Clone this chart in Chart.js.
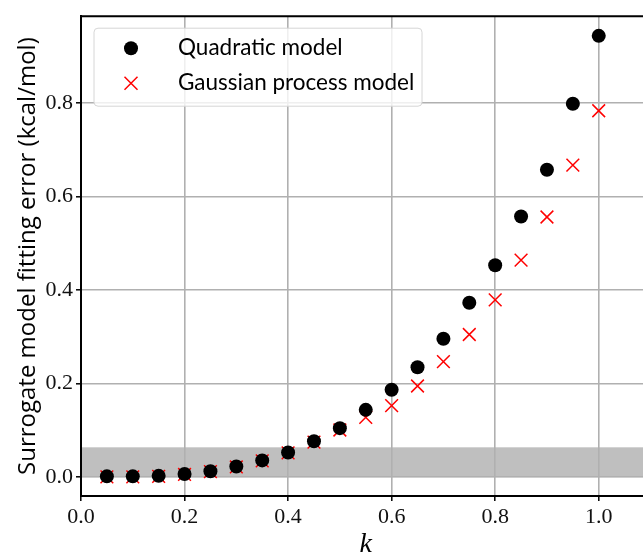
<!DOCTYPE html>
<html lang="en">
<head>
    <meta charset="UTF-8">
    <title>Surrogate model fitting error</title>
    <script src="https://cdn.jsdelivr.net/npm/chart.js"></script>
    <style>
        html, body {
            margin: 0;
            padding: 0;
            width: 643px;
            height: 552px;
            overflow: hidden;
            background: #ffffff;
        }

        #wrap {
            width: 661px;
            height: 570px;
        }
    </style>
</head>
<body>
    <div id="wrap">
        <canvas id="errChart" width="661" height="570"></canvas>
    </div>
    <script>
        // data
        var kValues = [0.05, 0.10, 0.15, 0.20, 0.25, 0.30, 0.35, 0.40, 0.45, 0.50,
                       0.55, 0.60, 0.65, 0.70, 0.75, 0.80, 0.85, 0.90, 0.95, 1.00];
        var quadraticErr = [0.002, 0.002, 0.003, 0.007, 0.013, 0.023, 0.036, 0.053, 0.077, 0.105,
                            0.144, 0.187, 0.235, 0.296, 0.373, 0.453, 0.557, 0.657, 0.798, 0.943];
        var gaussianErr = [0.001, 0.001, 0.002, 0.006, 0.012, 0.022, 0.035, 0.052, 0.075, 0.101,
                           0.128, 0.153, 0.195, 0.247, 0.305, 0.379, 0.464, 0.556, 0.667, 0.783];
        var seriesNames = ['Quadratic model', 'Gaussian process model'];
        var bandRange = [0, 0.064];
        var xTicks = [0.0, 0.2, 0.4, 0.6, 0.8, 1.0];
        var yTicks = [0.0, 0.2, 0.4, 0.6, 0.8];

        function toPoints(ys) {
            return kValues.map(function (k, i) { return { x: k, y: ys[i] }; });
        }

        var serif = "'Liberation Serif', 'DejaVu Serif', serif";
        var sans = "Lato, 'Open Sans', sans-serif";

        // grey band, drawn before the grid so grid lines sit on top
        var bandPlugin = {
            id: 'band',
            beforeDraw: function (chart) {
                var a = chart.chartArea, y = chart.scales.y;
                var top = y.getPixelForValue(bandRange[1]);
                var bot = y.getPixelForValue(bandRange[0]);
                var ctx = chart.ctx;
                ctx.save();
                ctx.fillStyle = '#bfbfbf';
                ctx.fillRect(a.left, top, a.right - a.left, bot - top);
                ctx.restore();
            }
        };

        // top / right frame + legend box
        var framePlugin = {
            id: 'frame',
            afterDraw: function (chart) {
                var a = chart.chartArea, ctx = chart.ctx;
                ctx.save();
                ctx.strokeStyle = '#000';
                ctx.lineWidth = 2;
                ctx.beginPath();
                ctx.moveTo(a.left - 1, a.top);
                ctx.lineTo(a.right, a.top);
                ctx.lineTo(a.right, a.bottom);
                ctx.stroke();

                // legend
                var bx = a.left + 13, by = a.top + 12, bw = 328, bh = 78;
                ctx.beginPath();
                ctx.roundRect(bx, by, bw, bh, 4);
                ctx.fillStyle = 'rgba(255,255,255,0.8)';
                ctx.fill();
                ctx.strokeStyle = '#d6d6d6';
                ctx.lineWidth = 1;
                ctx.stroke();

                var mx = bx + 37;
                var row1 = by + 20, row2 = by + 55;
                ctx.fillStyle = '#000';
                ctx.beginPath();
                ctx.arc(mx, row1, 7, 0, Math.PI * 2);
                ctx.fill();

                ctx.strokeStyle = '#ff0000';
                ctx.lineWidth = 1.5;
                ctx.beginPath();
                ctx.moveTo(mx - 6.5, row2 - 6.5);
                ctx.lineTo(mx + 6.5, row2 + 6.5);
                ctx.moveTo(mx + 6.5, row2 - 6.5);
                ctx.lineTo(mx - 6.5, row2 + 6.5);
                ctx.stroke();

                ctx.fillStyle = '#000';
                ctx.font = '22.5px ' + sans;
                ctx.textBaseline = 'middle';
                ctx.textAlign = 'left';
                ctx.fillText(seriesNames[0], bx + 84, row1);
                ctx.fillText(seriesNames[1], bx + 84, row2);
                ctx.restore();
            }
        };

        var gridStyle = {
            color: '#b0b0b0',
            lineWidth: 1.6,
            tickColor: '#000',
            tickLength: 5,
            tickWidth: 1.5
        };

        var ctx = document.getElementById('errChart').getContext('2d');
        var errChart = new Chart(ctx, {
            type: 'scatter',
            data: {
                datasets: [{
                    label: seriesNames[0],
                    data: toPoints(quadraticErr),
                    pointStyle: 'circle',
                    pointRadius: 7,
                    pointBackgroundColor: '#000',
                    pointBorderWidth: 0,
                    pointHoverRadius: 7
                }, {
                    label: seriesNames[1],
                    data: toPoints(gaussianErr),
                    pointStyle: 'crossRot',
                    pointRadius: 9,
                    pointBorderColor: '#ff0000',
                    pointBorderWidth: 1.5,
                    pointHoverRadius: 9
                }]
            },
            options: {
                responsive: false,
                animation: false,
                devicePixelRatio: 1,
                layout: { padding: { top: 13, left: 0, right: 0, bottom: 0 } },
                plugins: {
                    legend: { display: false },
                    tooltip: { enabled: false }
                },
                scales: {
                    x: {
                        type: 'linear',
                        min: 0,
                        max: 1.1,
                        afterBuildTicks: function (s) {
                            s.ticks = xTicks.map(function (v) { return { value: v }; });
                        },
                        afterFit: function (s) { s.height = 74; },
                        ticks: {
                            color: '#111',
                            font: { family: serif, size: 22 },
                            padding: 3,
                            maxRotation: 0,
                            callback: function (v) { return v.toFixed(1); }
                        },
                        grid: gridStyle,
                        border: { display: true, color: '#000', width: 2 },
                        title: {
                            display: true,
                            text: 'k',
                            color: '#000',
                            font: { family: serif, size: 28, style: 'italic', lineHeight: 1 },
                            padding: { top: 0, bottom: 11 }
                        }
                    },
                    y: {
                        type: 'linear',
                        min: -0.040,
                        max: 0.985,
                        afterBuildTicks: function (s) {
                            s.ticks = yTicks.map(function (v) { return { value: v }; });
                        },
                        afterFit: function (s) { s.width = 81; },
                        ticks: {
                            color: '#111',
                            font: { family: serif, size: 22 },
                            padding: 3,
                            callback: function (v) { return v.toFixed(1); }
                        },
                        grid: gridStyle,
                        border: { display: true, color: '#000', width: 2 },
                        title: {
                            display: true,
                            text: 'Surrogate model fitting error (kcal/mol)',
                            color: '#000',
                            font: { family: "'Open Sans', Lato, sans-serif", size: 24, lineHeight: 1.2 },
                            padding: { top: 14, bottom: 0 }
                        }
                    }
                }
            },
            plugins: [bandPlugin, framePlugin]
        });
    </script>
</body>
</html>
